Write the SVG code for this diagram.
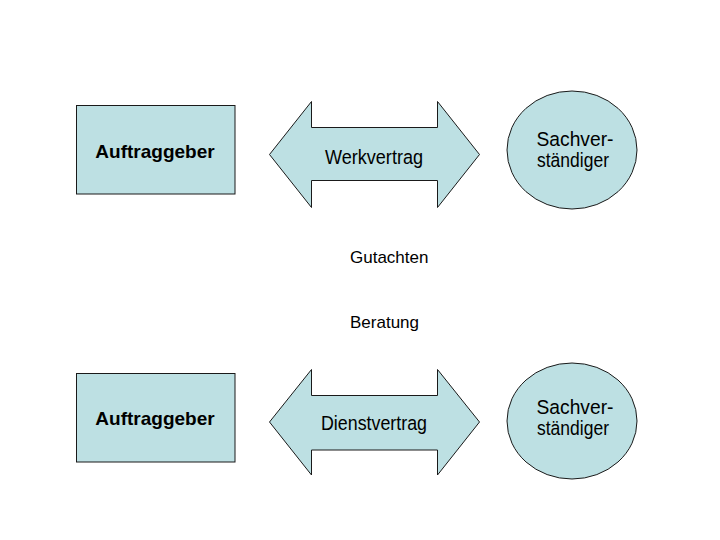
<svg xmlns="http://www.w3.org/2000/svg" width="720" height="540" viewBox="0 0 720 540">
<style>
.shape{fill:#bde0e3;stroke:#1a1a1a;stroke-width:1}
.t{font-family:"Liberation Sans",Arial,sans-serif;fill:#000;text-anchor:middle}
.b{font-weight:bold;font-size:19px}
.n{font-size:20.5px}
.s{font-size:17px;text-anchor:start}
</style>
<rect width="720" height="540" fill="#fff"/>
<g id="auftraggeber1">
<rect class="shape" x="76.5" y="105.5" width="158.5" height="88.5"/>
<text class="t b" x="155" y="158">Auftraggeber</text>
</g>
<g id="werkvertrag">
<polygon class="shape" points="269.5,154.5 311.5,101.5 311.5,127.5 437.5,127.5 437.5,101.5 479.5,154.5 437.5,207.5 437.5,180.5 311.5,180.5 311.5,207.5"/>
<text class="t n" x="374" y="164" textLength="98" lengthAdjust="spacingAndGlyphs">Werkvertrag</text>
</g>
<g id="sachverstaendiger1">
<ellipse class="shape" cx="572" cy="150" rx="65" ry="59"/>
<text class="t n" x="575" y="146" textLength="77" lengthAdjust="spacingAndGlyphs">Sachver-</text>
<text class="t n" x="573" y="167" textLength="72" lengthAdjust="spacingAndGlyphs">ständiger</text>
</g>
<g id="labels">
<text class="t s" x="350" y="263">Gutachten</text>
<text class="t s" x="350" y="328">Beratung</text>
</g>
<g id="auftraggeber2">
<rect class="shape" x="76.5" y="373.5" width="158.5" height="88.5"/>
<text class="t b" x="155" y="425">Auftraggeber</text>
</g>
<g id="dienstvertrag">
<polygon class="shape" points="269.5,422 311.5,369.5 311.5,395.5 437.5,395.5 437.5,369.5 479.5,422 437.5,475 437.5,450 311.5,450 311.5,475"/>
<text class="t n" x="374" y="430" textLength="106" lengthAdjust="spacingAndGlyphs">Dienstvertrag</text>
</g>
<g id="sachverstaendiger2">
<ellipse class="shape" cx="572" cy="421" rx="65" ry="58"/>
<text class="t n" x="575" y="414" textLength="77" lengthAdjust="spacingAndGlyphs">Sachver-</text>
<text class="t n" x="573" y="435" textLength="72" lengthAdjust="spacingAndGlyphs">ständiger</text>
</g>
<g id="connectors"></g>
</svg>
